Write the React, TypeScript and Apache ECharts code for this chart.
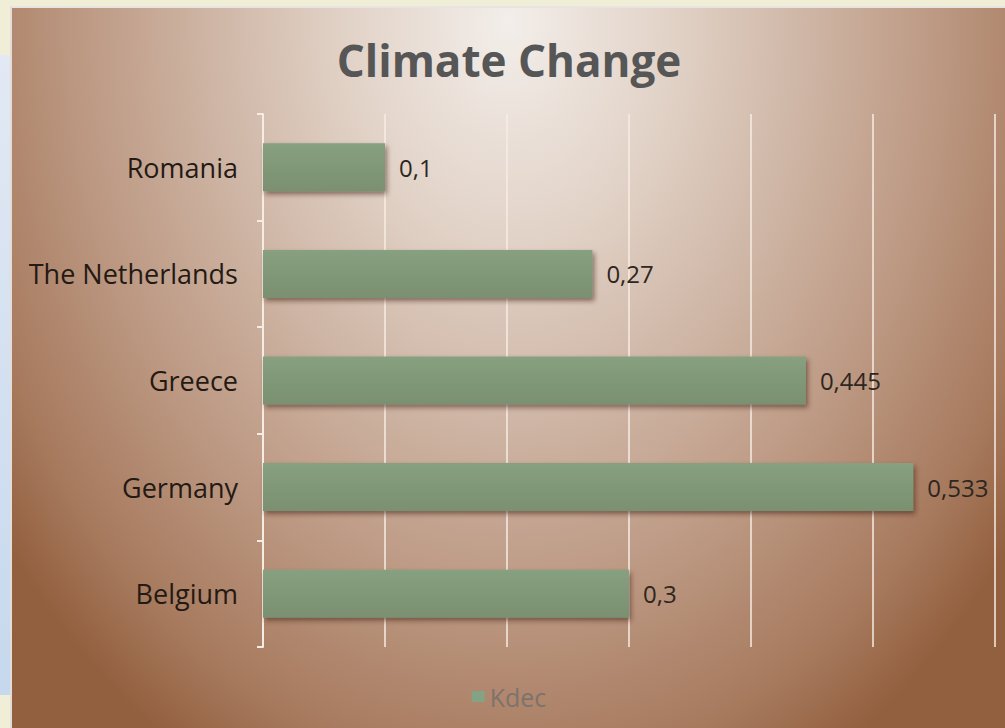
import React, { useEffect, useRef } from "react";
import * as echarts from "echarts";

const categories = ["Belgium", "Germany", "Greece", "The Netherlands", "Romania"];
const kdecValues = [0.3, 0.533, 0.445, 0.27, 0.1];
const xTicks = [0, 0.1, 0.2, 0.3, 0.4, 0.5, 0.6];
const seriesName = "Kdec";
const titleText = "Climate Change";

export default function App() {
  const ref = useRef<HTMLDivElement>(null);
  useEffect(() => {
    if (!ref.current) return;
    const chart = echarts.init(ref.current, null, { renderer: "svg" });
    const fontFamily = "'Open Sans', 'DejaVu Sans', sans-serif";
    chart.setOption({
      animation: false,
      backgroundColor: "transparent",
      title: {
        text: titleText,
        left: "center",
        top: 25,
        textStyle: { fontFamily, fontSize: 44, fontWeight: "bold", color: "#565656" },
      },
      legend: {
        top: 671,
        left: "center",
        itemWidth: 13,
        itemHeight: 11,
        icon: "rect",
        itemGap: 4,
        textStyle: { fontFamily, fontSize: 25, color: "#7d736c" },
        data: [{ name: seriesName, itemStyle: { color: "#82a384" } }],
      },
      grid: { left: 251, right: 11, top: 106, bottom: 82, containLabel: false },
      xAxis: {
        type: "value",
        min: xTicks[0],
        max: xTicks[xTicks.length - 1],
        interval: 0.1,
        axisLabel: { show: false },
        axisLine: { show: false },
        axisTick: { show: false },
        splitLine: { show: true, lineStyle: { color: "#f7ece4", width: 1.5 } },
      },
      yAxis: {
        type: "category",
        data: categories,
        axisLine: { show: true, lineStyle: { color: "#f7ece4", width: 2 } },
        axisTick: { show: true, length: 6, lineStyle: { color: "#f7ece4", width: 2 } },
        axisLabel: { margin: 25, fontFamily, fontSize: 27, color: "#241a14" },
      },
      series: [
        {
          name: seriesName,
          type: "bar",
          data: kdecValues,
          barWidth: 48,
          itemStyle: {
            color: new echarts.graphic.LinearGradient(0, 0, 0, 1, [
              { offset: 0, color: "#87a07f" },
              { offset: 1, color: "#7a9070" },
            ]),
            shadowColor: "rgba(60,30,15,0.55)",
            shadowBlur: 5,
            shadowOffsetX: 2,
            shadowOffsetY: 3,
          },
          label: {
            show: true,
            position: "right",
            distance: 14,
            fontFamily,
            fontSize: 24,
            color: "#2e2620",
            formatter: (p: any) => String(p.value).replace(".", ","),
          },
        },
      ],
    });
    return () => chart.dispose();
  }, []);

  return (
    <div
      style={{
        position: "fixed",
        left: 0,
        top: 0,
        width: 1005,
        height: 728,
        background: "#f1eed8",
        overflow: "hidden",
      }}
    >
      <div
        style={{
          position: "absolute",
          left: 0,
          top: 55,
          width: 11,
          height: 640,
          background: "linear-gradient(180deg, #e2e9f4 0%, #c6d8ee 100%)",
        }}
      />
      <div
        style={{
          position: "absolute",
          left: 10,
          top: 6,
          width: 995,
          height: 722,
          boxSizing: "border-box",
          borderLeft: "2px solid #e4dcd6",
          borderTop: "2px solid #e8e4e0",
          background:
            "radial-gradient(ellipse 64% 118% at 50% 2%, #f3eeea 0%, #e2d3c8 25%, #d0b8a8 45%, #bc9882 68%, #a77a5e 88%, #93603f 100%)",
        }}
      >
        <div ref={ref} style={{ position: "absolute", left: 0, top: 0, width: 994, height: 721 }} />
      </div>
    </div>
  );
}
